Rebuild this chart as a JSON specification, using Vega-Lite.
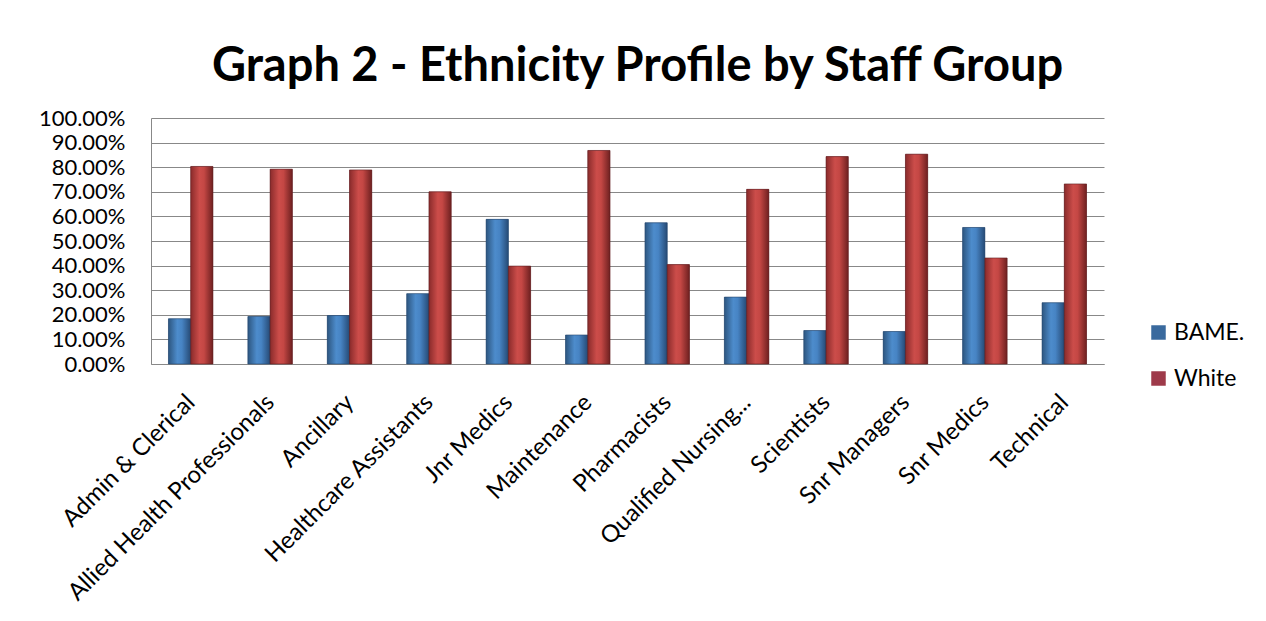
{
  "$schema": "https://vega.github.io/schema/vega-lite/v6.json",
  "autosize": {"type": "none"},
  "width": 953,
  "height": 246,
  "padding": {"left": 151, "top": 118, "right": 162, "bottom": 257},
  "background": "white",
  "title": {
    "text": "Graph 2 - Ethnicity Profile by Staff Group",
    "font": "Lato",
    "fontSize": 47,
    "fontWeight": "bold",
    "color": "#000000",
    "anchor": "middle",
    "offset": 16,
    "dx": 10
  },
  "data": {
    "values": [
      {"group": "Admin & Clerical", "ethnicity": "BAME.", "share": 0.184},
      {"group": "Admin & Clerical", "ethnicity": "White", "share": 0.803},
      {"group": "Allied Health Professionals", "ethnicity": "BAME.", "share": 0.193},
      {"group": "Allied Health Professionals", "ethnicity": "White", "share": 0.792},
      {"group": "Ancillary", "ethnicity": "BAME.", "share": 0.197},
      {"group": "Ancillary", "ethnicity": "White", "share": 0.789},
      {"group": "Healthcare Assistants", "ethnicity": "BAME.", "share": 0.286},
      {"group": "Healthcare Assistants", "ethnicity": "White", "share": 0.700},
      {"group": "Jnr Medics", "ethnicity": "BAME.", "share": 0.588},
      {"group": "Jnr Medics", "ethnicity": "White", "share": 0.398},
      {"group": "Maintenance", "ethnicity": "BAME.", "share": 0.118},
      {"group": "Maintenance", "ethnicity": "White", "share": 0.868},
      {"group": "Pharmacists", "ethnicity": "BAME.", "share": 0.574},
      {"group": "Pharmacists", "ethnicity": "White", "share": 0.404},
      {"group": "Qualified Nursing...", "ethnicity": "BAME.", "share": 0.272},
      {"group": "Qualified Nursing...", "ethnicity": "White", "share": 0.710},
      {"group": "Scientists", "ethnicity": "BAME.", "share": 0.136},
      {"group": "Scientists", "ethnicity": "White", "share": 0.843},
      {"group": "Snr Managers", "ethnicity": "BAME.", "share": 0.132},
      {"group": "Snr Managers", "ethnicity": "White", "share": 0.853},
      {"group": "Snr Medics", "ethnicity": "BAME.", "share": 0.555},
      {"group": "Snr Medics", "ethnicity": "White", "share": 0.431},
      {"group": "Technical", "ethnicity": "BAME.", "share": 0.249},
      {"group": "Technical", "ethnicity": "White", "share": 0.732}
    ]
  },
  "encoding": {
    "x": {
      "field": "group",
      "type": "nominal",
      "sort": null,
      "scale": {"paddingInner": 0.44, "paddingOuter": 0.22},
      "axis": {
        "title": null,
        "labelAngle": -45,
        "labelAlign": "right",
        "labelBaseline": "top",
        "labelFont": "Lato",
        "labelFontSize": 24,
        "labelColor": "#000000",
        "labelPadding": 26,
        "labelOffset": -8,
        "labelOverlap": false,
        "ticks": false,
        "domain": true,
        "domainColor": "#888888",
        "labelLimit": 400
      }
    },
    "xOffset": {"field": "ethnicity", "type": "nominal", "scale": {"domain": ["BAME.", "White"], "paddingInner": 0}},
    "y": {
      "field": "share",
      "type": "quantitative",
      "scale": {"domain": [0, 1], "nice": false},
      "axis": {
        "title": null,
        "format": ".2%",
        "values": [0, 0.1, 0.2, 0.3, 0.4, 0.5, 0.6, 0.7, 0.8, 0.9, 1.0],
        "labelFont": "Lato",
        "labelFontSize": 22,
        "labelColor": "#000000",
        "labelPadding": 26,
        "labelOverlap": false,
        "labelBound": false,
        "ticks": false,
        "domain": true,
        "domainColor": "#888888",
        "grid": true,
        "gridColor": "#888888",
        "gridWidth": 1
      }
    }
  },
  "layer": [
    {
      "mark": {"type": "bar"},
      "encoding": {
        "color": {
          "field": "ethnicity",
          "type": "nominal",
          "scale": {"domain": ["BAME.", "White"], "range": ["#3A6A9E", "#9E3A4A"]},
          "legend": {
            "title": null,
            "orient": "none",
            "legendX": 996,
            "legendY": 203,
            "symbolType": "square",
            "symbolSize": 210,
            "symbolStrokeWidth": 0,
            "labelFont": "Lato",
            "labelFontSize": 23,
            "labelColor": "#000000",
            "rowPadding": 22,
            "labelOffset": 4
          }
        }
      }
    },
    {
      "transform": [{"filter": "datum.ethnicity === 'BAME.'"}],
      "mark": {
        "type": "bar",
        "stroke": "#27466b",
        "strokeWidth": 0.6,
        "fill": {
          "gradient": "linear",
          "x1": 0, "y1": 0, "x2": 1, "y2": 0,
          "stops": [
            {"offset": 0, "color": "#2d5680"},
            {"offset": 0.4, "color": "#4d8ccc"},
            {"offset": 0.6, "color": "#4784c4"},
            {"offset": 1, "color": "#264a75"}
          ]
        }
      }
    },
    {
      "transform": [{"filter": "datum.ethnicity === 'White'"}],
      "mark": {
        "type": "bar",
        "stroke": "#5e1f20",
        "strokeWidth": 0.6,
        "fill": {
          "gradient": "linear",
          "x1": 0, "y1": 0, "x2": 1, "y2": 0,
          "stops": [
            {"offset": 0, "color": "#8a2b2b"},
            {"offset": 0.4, "color": "#cc4d4a"},
            {"offset": 0.6, "color": "#c44744"},
            {"offset": 1, "color": "#6e2020"}
          ]
        }
      }
    }
  ],
  "config": {
    "view": {"stroke": null}
  }
}
